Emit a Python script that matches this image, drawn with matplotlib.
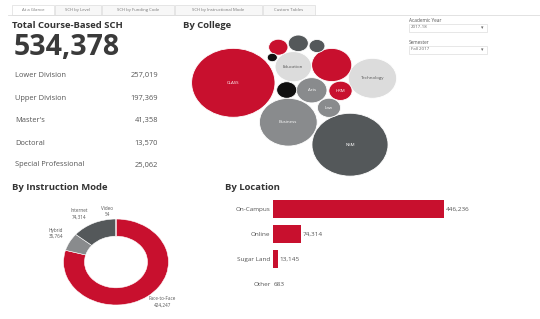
import matplotlib
matplotlib.use("Agg")
import matplotlib.pyplot as plt
from matplotlib.patches import Ellipse, Rectangle
import numpy as np

plt.rcParams['font.family'] = ['Open Sans', 'DejaVu Sans']

# ---------------- data ----------------
tabs = ["At a Glance", "SCH by Level", "SCH by Funding Code",
        "SCH by Instructional Mode", "Custom Tables"]
total_sch = 534378
level_names = ["Lower Division", "Upper Division", "Master's", "Doctoral",
               "Special Professional"]
level_values = [257019, 197369, 41358, 13570, 25062]

college_names = ["CLASS", "NSM", "Business", "Technology", "Engineering",
                 "Education", "Arts", "HRM", "Law", "Pharmacy",
                 "Social Work", "Optometry", "Architecture", "Honors"]
college_values = [149000, 124000, 71500, 50000, 34500, 28500, 20000,
                  11600, 11500, 8000, 8600, 8600, 5400, 2200]
college_label_shown = [True, True, True, True, False, True, True, True,
                       True, False, False, False, False, False]

mode_names = ["Face-to-Face", "Hybrid", "Internet", "Video"]
mode_values = [424247, 35764, 74314, 54]

loc_names = ["On-Campus", "Online", "Sugar Land", "Other"]
loc_values = [446236, 74314, 13145, 683]

academic_year = "2017-18"
semester = "Fall 2017"

# ---------------- style / layout ----------------
W, H = 540, 319
RED = "#C8102E"
DARK = "#54585A"
MID = "#898B8D"
LIGHT = "#DCDCDC"
BLACK = "#111111"
TXT = "#555555"
TITLE = "#333333"

college_colors = [RED, DARK, MID, LIGHT, RED, LIGHT, MID, RED, MID, RED,
                  DARK, BLACK, DARK, BLACK]
college_text_colors = ["white", "white", "white", "#555555", "white",
                       "#555555", "white", "white", "white", "white",
                       "white", "white", "white", "white"]
# packed-bubble layout centres (pixel coordinates)
college_centers = [(233.3, 82.8), (350, 144.7), (288.3, 122.2),
                   (372.5, 78.3), (331.7, 65), (293.3, 66.7),
                   (311.7, 90.3), (340.5, 90.8), (329, 107.8),
                   (278.3, 47.2), (298.3, 43.3), (286.7, 90),
                   (317, 46), (272.3, 57.5)]
BUBBLE_K = 0.0982   # px per sqrt(SCH)
SX, SY = 1.1, 1 / 1.1  # horizontal stretch of the dashboard image

fig = plt.figure(figsize=(W / 100, H / 100), dpi=100)
fig.patch.set_facecolor("white")

cv = fig.add_axes([0, 0, 1, 1])
cv.set_xlim(0, W)
cv.set_ylim(H, 0)
cv.axis("off")

# tabs
tab_x = [12, 55, 102, 175, 263]
tab_w = [42, 46, 72, 87, 52]
cv.plot([8, W], [14.5, 14.5], color="#DDDDDD", lw=0.6)
for i, (t, x, w) in enumerate(zip(tabs, tab_x, tab_w)):
    cv.add_patch(Rectangle((x, 5), w, 9.5, facecolor="white" if i == 0 else "#F7F7F7",
                           edgecolor="#DDDDDD", lw=0.5))
    cv.text(x + w / 2, 10, t, ha="center", va="center", fontsize=3.1, color="#777777")

# titles
cv.text(12, 26, "Total Course-Based SCH", fontsize=6.8, fontweight="bold",
        color=TITLE, va="center")
cv.text(183, 26, "By College", fontsize=6.8, fontweight="bold", color=TITLE, va="center")
cv.text(12, 188, "By Instruction Mode", fontsize=6.8, fontweight="bold",
        color=TITLE, va="center")
cv.text(225, 188, "By Location", fontsize=6.8, fontweight="bold", color=TITLE, va="center")

# KPI
cv.text(14, 47.5, f"{total_sch:,}", fontsize=20.5, fontweight="bold", color="#3A3A3A",
        va="center", ha="left")
row_y = [75.7, 98.7, 120.5, 143.3, 165]
for name, val, y in zip(level_names, level_values, row_y):
    cv.text(15, y, name, fontsize=5.4, color=TXT, va="center")
    cv.text(158, y, f"{val:,}", fontsize=5.4, color=TXT, va="center", ha="right")

# bubbles
for name, val, col, tcol, (cx, cy), show in zip(college_names, college_values,
                                                 college_colors, college_text_colors,
                                                 college_centers, college_label_shown):
    r = BUBBLE_K * np.sqrt(val)
    cv.add_patch(Ellipse((cx, cy), 2 * r * SX, 2 * r * SY, facecolor=col,
                         edgecolor="white", lw=0.6))
    if show:
        cv.text(cx, cy, name, ha="center", va="center", fontsize=3.2, color=tcol)

# filters
for lbl, val, y in [("Academic Year", academic_year, 21), ("Semester", semester, 43)]:
    cv.text(409, y, lbl, fontsize=3.4, color=TXT, va="center")
    cv.add_patch(Rectangle((409, y + 2.5), 78, 8, facecolor="white",
                           edgecolor="#DDDDDD", lw=0.5))
    cv.text(411, y + 6.5, val, fontsize=3.2, color="#666666", va="center")
    cv.text(482, y + 6.5, "▾", fontsize=3.5, color="#666666", va="center", ha="center")

# donut
dx0, dx1, dy0, dy1 = 63.5, 168.5, 219, 305
ad = fig.add_axes([dx0 / W, 1 - dy1 / H, (dx1 - dx0) / W, (dy1 - dy0) / H])
wedges, _ = ad.pie(mode_values, colors=[RED, MID, DARK, DARK], startangle=90,
                   counterclock=False, radius=1,
                   wedgeprops=dict(width=0.40, edgecolor="white", linewidth=0.4))
ad.set_aspect("auto")
ad.set_xlim(-1, 1)
ad.set_ylim(-1, 1)
ad.axis("off")
label_pos = [(0.88, -0.93), (-1.14, 0.67), (-0.70, 1.12), (-0.17, 1.18)]
for name, val, (lx, ly) in zip(mode_names, mode_values, label_pos):
    ad.text(lx, ly, f"{name}\n{val:,}", ha="center", va="center", fontsize=3.3,
            color=TXT, linespacing=1.3, clip_on=False)

# location bars
bx0, by0, bw, bh = 272.7, 196.3, 200, 100.3
ab = fig.add_axes([bx0 / W, 1 - (by0 + bh) / H, bw / W, bh / H])
ypos = np.arange(len(loc_names))
ab.barh(ypos, loc_values, height=0.72, color=RED, edgecolor="none")
ab.set_xlim(0, bw / 0.0003846)
ab.set_ylim(len(loc_names) - 0.5, -0.5)
for s in ab.spines.values():
    s.set_visible(False)
ab.set_xticks([])
ab.set_yticks(ypos)
ab.set_yticklabels(loc_names, fontsize=4.6, color=TXT)
ab.tick_params(axis="y", length=0, pad=1.5)
for y, v in zip(ypos, loc_values):
    ab.text(v + 3000, y, f"{v:,}", va="center", ha="left", fontsize=4.6, color=TXT)
ab.patch.set_alpha(0)

fig.savefig("out.png", dpi=100, facecolor="white")
